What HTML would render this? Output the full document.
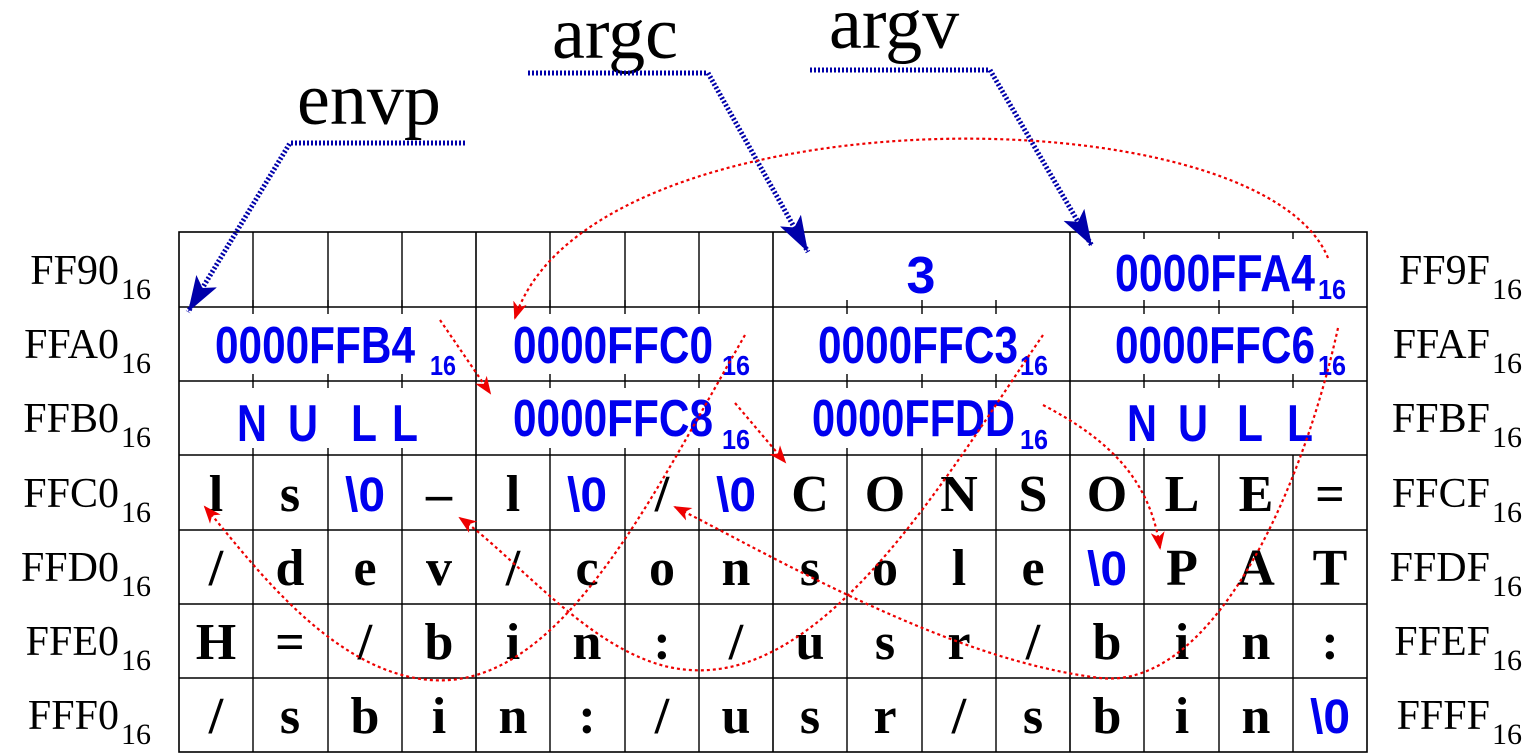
<!DOCTYPE html>
<html><head><meta charset="utf-8"><style>body{margin:0;background:#fff}svg{display:block}</style></head><body>
<svg width="1534" height="755" viewBox="0 0 1534 755" xmlns="http://www.w3.org/2000/svg">
<defs>
<marker id="ra" markerWidth="20" markerHeight="14" refX="16" refY="7" orient="auto" markerUnits="userSpaceOnUse"><path d="M0,0 L18,7 L0,14 L5,7z" fill="#e00"/></marker>
<marker id="ba" markerWidth="40" markerHeight="40" refX="36" refY="12" orient="auto" markerUnits="userSpaceOnUse"><path d="M0,0 L36,12 L0,24 L8,12z" fill="#00a"/></marker>
</defs>
<g stroke="#000" stroke-width="1.6" fill="none">
<rect x="179" y="232" width="1188" height="520"/>
<line x1="179" y1="307" x2="1367" y2="307"/><line x1="179" y1="381" x2="1367" y2="381"/><line x1="179" y1="455" x2="1367" y2="455"/><line x1="179" y1="530" x2="1367" y2="530"/><line x1="179" y1="604" x2="1367" y2="604"/><line x1="179" y1="678" x2="1367" y2="678"/>
<line x1="476" y1="232" x2="476" y2="752"/><line x1="773" y1="232" x2="773" y2="752"/><line x1="1070" y1="232" x2="1070" y2="752"/>
</g>
<g stroke="#000" stroke-width="1.4">
<line x1="253" y1="232" x2="253" y2="307"/><line x1="328" y1="232" x2="328" y2="307"/><line x1="402" y1="232" x2="402" y2="307"/>
<line x1="550" y1="232" x2="550" y2="307"/><line x1="625" y1="232" x2="625" y2="307"/><line x1="699" y1="232" x2="699" y2="307"/>
<line x1="253" y1="455" x2="253" y2="752"/><line x1="328" y1="455" x2="328" y2="752"/><line x1="402" y1="455" x2="402" y2="752"/>
<line x1="550" y1="455" x2="550" y2="752"/><line x1="625" y1="455" x2="625" y2="752"/><line x1="699" y1="455" x2="699" y2="752"/>
<line x1="847" y1="455" x2="847" y2="752"/><line x1="922" y1="455" x2="922" y2="752"/><line x1="996" y1="455" x2="996" y2="752"/>
<line x1="1144" y1="455" x2="1144" y2="752"/><line x1="1219" y1="455" x2="1219" y2="752"/><line x1="1293" y1="455" x2="1293" y2="752"/>
<path d="M1144,232v7M1219,232v7M1293,232v7M1144,300v14M1219,300v14M1293,300v14M1144,374v14M1219,374v14M1293,374v14M1144,448v7
M253,300v14M328,300v14M402,300v14M253,374v14M328,374v14M402,374v14M253,448v7M328,448v7M402,448v7
M550,300v14M625,300v14M699,300v14M550,374v14M625,374v14M699,374v14M550,448v7M625,448v7M699,448v7
M847,300v14M922,300v14M996,300v14M847,374v14M922,374v14M996,374v14M847,448v7M922,448v7M996,448v7" stroke="#000" fill="none"/>
</g>
<g font-family="Liberation Serif, serif" font-size="42" fill="#000">
<g text-anchor="end">
<text x="119" y="284">FF90</text><text x="119" y="358">FFA0</text><text x="119" y="432">FFB0</text><text x="119" y="507">FFC0</text><text x="119" y="581">FFD0</text><text x="119" y="655">FFE0</text><text x="119" y="729">FFF0</text>
</g>
<g font-size="30"><text x="121" y="299">16</text><text x="121" y="373">16</text><text x="121" y="447">16</text><text x="121" y="522">16</text><text x="121" y="596">16</text><text x="121" y="670">16</text><text x="121" y="744">16</text></g>
<g text-anchor="end">
<text x="1490" y="284">FF9F</text><text x="1490" y="358">FFAF</text><text x="1490" y="432">FFBF</text><text x="1490" y="507">FFCF</text><text x="1490" y="581">FFDF</text><text x="1490" y="655">FFEF</text><text x="1490" y="729">FFFF</text>
</g>
<g font-size="30"><text x="1492" y="299">16</text><text x="1492" y="373">16</text><text x="1492" y="447">16</text><text x="1492" y="522">16</text><text x="1492" y="596">16</text><text x="1492" y="670">16</text><text x="1492" y="744">16</text></g>
<text x="297" y="124" font-size="74">envp</text>
<text x="552" y="58" font-size="74">argc</text>
<text x="829" y="48" font-size="74">argv</text>
</g>
<g font-family="Liberation Sans, sans-serif" font-weight="bold" font-size="52" fill="#0000ee">
<text x="1115" y="291" textLength="200" lengthAdjust="spacingAndGlyphs">0000FFA4</text>
<text x="921" y="293" text-anchor="middle">3</text>
<text x="215" y="363" textLength="200" lengthAdjust="spacingAndGlyphs">0000FFB4</text>
<text x="513" y="363" textLength="200" lengthAdjust="spacingAndGlyphs">0000FFC0</text>
<text x="818" y="363" textLength="200" lengthAdjust="spacingAndGlyphs">0000FFC3</text>
<text x="1115" y="363" textLength="200" lengthAdjust="spacingAndGlyphs">0000FFC6</text>
<text x="513" y="436" textLength="200" lengthAdjust="spacingAndGlyphs">0000FFC8</text>
<text x="812" y="436" textLength="203" lengthAdjust="spacingAndGlyphs">0000FFDD</text>
<g text-anchor="middle"><text x="252" y="441" textLength="30" lengthAdjust="spacingAndGlyphs">N</text><text x="303" y="441" textLength="30" lengthAdjust="spacingAndGlyphs">U</text><text x="364" y="441" textLength="26" lengthAdjust="spacingAndGlyphs">L</text><text x="405" y="441" textLength="26" lengthAdjust="spacingAndGlyphs">L</text>
<text x="1142" y="441" textLength="30" lengthAdjust="spacingAndGlyphs">N</text><text x="1193" y="441" textLength="30" lengthAdjust="spacingAndGlyphs">U</text><text x="1250" y="441" textLength="26" lengthAdjust="spacingAndGlyphs">L</text><text x="1300" y="441" textLength="26" lengthAdjust="spacingAndGlyphs">L</text></g>
<g font-size="28"><text x="1318" y="299" textLength="28" lengthAdjust="spacingAndGlyphs">16</text><text x="430" y="375" textLength="26" lengthAdjust="spacingAndGlyphs">16</text><text x="722" y="375" textLength="28" lengthAdjust="spacingAndGlyphs">16</text><text x="1020" y="375" textLength="28" lengthAdjust="spacingAndGlyphs">16</text><text x="1318" y="375" textLength="28" lengthAdjust="spacingAndGlyphs">16</text><text x="722" y="449" textLength="28" lengthAdjust="spacingAndGlyphs">16</text><text x="1020" y="449" textLength="28" lengthAdjust="spacingAndGlyphs">16</text></g>
</g>
<g font-family="Liberation Serif, serif" font-weight="bold" font-size="52" text-anchor="middle" fill="#000">
<g transform="translate(0,511)"><text x="216">l</text><text x="290">s</text><text x="365" fill="#0000ee" font-family="Liberation Sans, sans-serif" font-size="48">\0</text><text x="439">–</text><text x="513">l</text><text x="587" fill="#0000ee" font-family="Liberation Sans, sans-serif" font-size="48">\0</text><text x="662">/</text><text x="736" fill="#0000ee" font-family="Liberation Sans, sans-serif" font-size="48">\0</text><text x="810">C</text><text x="885">O</text><text x="959">N</text><text x="1033">S</text><text x="1107">O</text><text x="1182">L</text><text x="1256">E</text><text x="1330">=</text></g>
<g transform="translate(0,585)"><text x="216">/</text><text x="290">d</text><text x="365">e</text><text x="439">v</text><text x="513">/</text><text x="587">c</text><text x="662">o</text><text x="736">n</text><text x="810">s</text><text x="885">o</text><text x="959">l</text><text x="1033">e</text><text x="1107" fill="#0000ee" font-family="Liberation Sans, sans-serif" font-size="48">\0</text><text x="1182">P</text><text x="1256">A</text><text x="1330">T</text></g>
<g transform="translate(0,659)"><text x="216">H</text><text x="290">=</text><text x="365">/</text><text x="439">b</text><text x="513">i</text><text x="587">n</text><text x="662">:</text><text x="736">/</text><text x="810">u</text><text x="885">s</text><text x="959">r</text><text x="1033">/</text><text x="1107">b</text><text x="1182">i</text><text x="1256">n</text><text x="1330">:</text></g>
<g transform="translate(0,733)"><text x="216">/</text><text x="290">s</text><text x="365">b</text><text x="439">i</text><text x="513">n</text><text x="587">:</text><text x="662">/</text><text x="736">u</text><text x="810">s</text><text x="885">r</text><text x="959">/</text><text x="1033">s</text><text x="1107">b</text><text x="1182">i</text><text x="1256">n</text><text x="1330" fill="#0000ee" font-family="Liberation Sans, sans-serif" font-size="48">\0</text></g>
</g>
<g stroke="#00a" stroke-width="5" stroke-dasharray="2,2" fill="none">
<polyline points="465,143 290,143 188,312" marker-end="url(#ba)"/>
<polyline points="528,73 708,73 808,252" marker-end="url(#ba)"/>
<polyline points="810,70 990,70 1092,246" marker-end="url(#ba)"/>
</g>
<g stroke="#e00" stroke-width="2.2" stroke-dasharray="3,3" fill="none" marker-end="url(#ra)">
<path d="M1328,258 C1260,90 590,90 515,318"/>
<path d="M440,320 L490,393"/>
<path d="M745,335 C650,500 560,690 430,680 C330,672 250,560 205,507"/>
<path d="M1043,335 C950,470 830,680 690,670 C600,665 520,560 460,518"/>
<path d="M1338,328 C1300,500 1210,690 1100,678 C950,660 780,560 675,507"/>
<path d="M735,403 L785,462"/>
<path d="M1043,405 C1110,440 1150,480 1160,548"/>
</g>
</svg>
</body></html>
